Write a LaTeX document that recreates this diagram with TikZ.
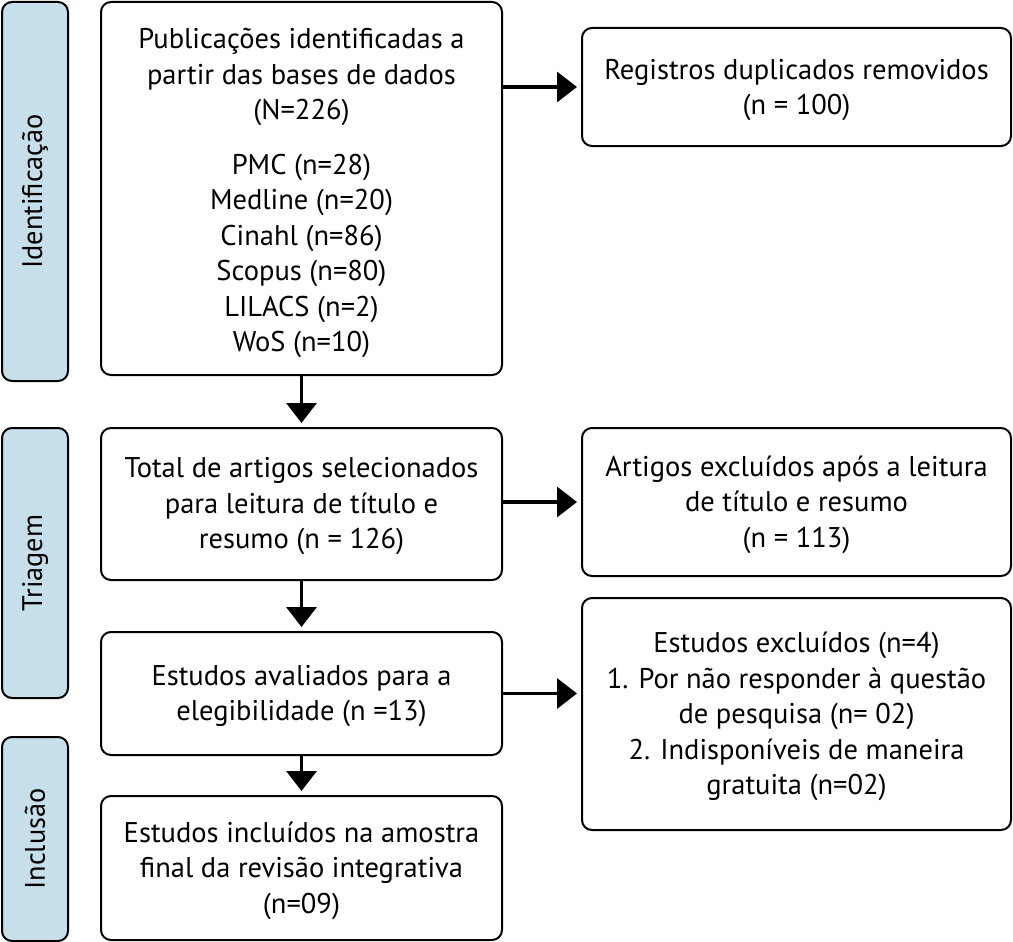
\documentclass[tikz,border=0pt]{standalone}
\usepackage{fontspec}
\setmainfont{PT Sans}
\usetikzlibrary{arrows.meta}
\definecolor{sideblue}{HTML}{C6DFEA}
\tikzset{
  box/.style={draw, line width=2pt, rounded corners=10pt, inner sep=0pt, fill=white},
  txt/.style={align=center, inner sep=0pt, font=\fontsize{28.5}{35.5}\selectfont},
  side/.style={draw, line width=2pt, rounded corners=10pt, fill=sideblue, rotate=90,
    inner sep=0pt, font=\fontsize{28.3}{30}\selectfont},
  arr/.style={line width=3.5pt, -{Triangle[length=20pt,width=30pt]}, shorten >=4pt}
}
\begin{document}
\begin{tikzpicture}[x=1pt,y=-1pt]
\useasboundingbox (0,0) rectangle (1013,942);
\node[side, minimum width=379pt, minimum height=66pt] (s1) at (35,191.5) {Identificação};
\node[side, minimum width=270pt, minimum height=66pt] (s2) at (35,563) {Triagem};
\node[side, minimum width=204pt, minimum height=66pt] (s3) at (35,839) {Inclusão};

\node[box, minimum width=401pt, minimum height=373pt] (b1) at (301.5,188.5) {};
\node[txt] (t1) at ([yshift=-4.5pt]b1.center)
  {Publicações identificadas a\\partir das bases de dados\\(N=226)\\[19pt]
   PMC (n=28)\\Medline (n=20)\\Cinahl (n=86)\\Scopus (n=80)\\LILACS (n=2)\\WoS (n=10)};
\node[box, minimum width=429pt, minimum height=118pt] (reg) at (796.5,87) {};
\node[txt] (t2) at ([yshift=-3pt]reg.center) {Registros duplicados removidos\\(n = 100)};
\node[box, minimum width=401pt, minimum height=152pt] (b2) at (301.5,504) {};
\node[txt] (t3) at ([yshift=-2.5pt]b2.center)
  {Total de artigos selecionados\\para leitura de título e\\resumo (n = 126)};
\node[box, minimum width=429pt, minimum height=148pt] (art) at (796.5,502) {};
\node[txt] (t4) at ([yshift=-2.5pt]art.center)
  {Artigos excluídos após a leitura\\de título e resumo\\(n = 113)};
\node[box, minimum width=401pt, minimum height=123pt] (b3) at (301.5,693.5) {};
\node[txt] (t5) at ([yshift=-2.5pt]b3.center) {Estudos avaliados para a\\elegibilidade (n =13)};
\node[box, minimum width=429pt, minimum height=232pt] (exc) at (796.5,714) {};
\node[txt] (t6) at ([yshift=-2.5pt]exc.center)
  {Estudos excluídos (n=4)\\1. Por não responder à questão\\de pesquisa (n= 02)\\2. Indisponíveis de maneira\\gratuita (n=02)};
\node[box, minimum width=401pt, minimum height=144pt] (b4) at (301.5,868) {};
\node[txt] (t7) at ([yshift=-2.5pt]b4.center)
  {Estudos incluídos na amostra\\final da revisão integrativa\\(n=09)};

\draw[arr] (b1.south) -- (b2.north);
\draw[arr] (b2.south) -- (b3.north);
\draw[arr] (b3.south) -- (b4.north);
\draw[arr] (b1.east |- reg.west) -- (reg.west);
\draw[arr] (b2.east |- art.west) -- (art.west);
\draw[arr] (b3.east) -- (b3.east -| exc.west);
\end{tikzpicture}
\end{document}
